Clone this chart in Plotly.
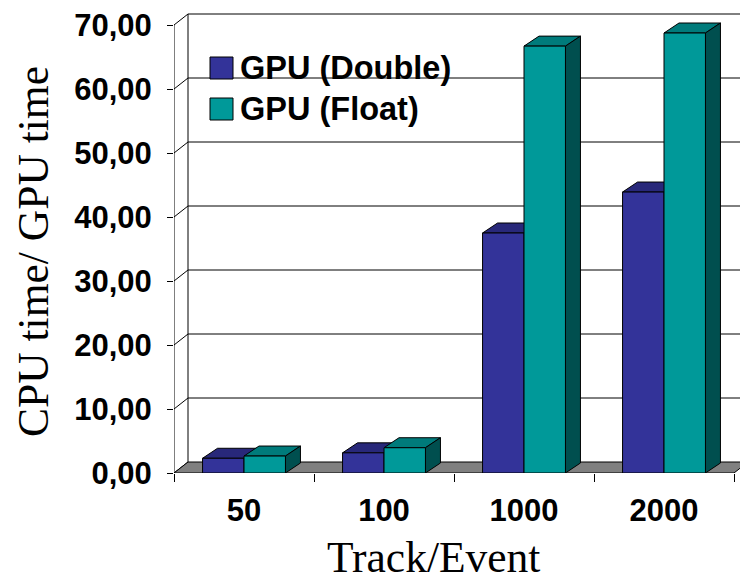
import plotly.graph_objects as go

# ---- data ----------------------------------------------------------------
CATEGORIES = ["50", "100", "1000", "2000"]
SERIES_NAMES = ["GPU (Double)", "GPU (Float)"]
GPU_DOUBLE = [2.3, 3.15, 37.5, 43.9]
GPU_FLOAT = [2.65, 3.95, 66.7, 68.75]
Y_TICKS = [0, 10, 20, 30, 40, 50, 60, 70]
Y_TICK_TEXT = ["0,00", "10,00", "20,00", "30,00", "40,00", "50,00", "60,00", "70,00"]
X_TITLE = "Track/Event"
Y_TITLE = "CPU time/ GPU time"

# ---- geometry --------------------------------------------------------------
W, H = 740, 580
PLOT_L, PLOT_T, PLOT_B = 174, 0, 473          # plot area edges in pixels
PX_PER_CAT = 140.0                              # pixels per category slot
PX_PER_UNIT = 6.4                               # pixels per value unit
X0 = -0.5
X_RANGE = [X0, X0 + (W - PLOT_L) / PX_PER_CAT]
Y_RANGE = [0, (PLOT_B - PLOT_T) / PX_PER_UNIT]

# oblique "3D" depth offsets converted to axis units
WALL_DX, WALL_DY = 14 / PX_PER_CAT, 11 / PX_PER_UNIT
BAR_DX, BAR_DY = 15 / PX_PER_CAT, 10 / PX_PER_UNIT
BAR_W = 0.296

DOUBLE_COLORS = dict(front="#333399", top="#28287a", side="#1a1a4d")
FLOAT_COLORS = dict(front="#009999", top="#007b7b", side="#004f4f")

BOLD = dict(family="Liberation Sans, Arial, sans-serif", size=31, color="black", weight="bold")
LEGEND_FONT = dict(BOLD, size=32.5)
SERIF = dict(family="Liberation Serif, Times New Roman, serif", size=43.5, color="black")

EDGE = dict(color="black", width=1)


def poly(pts):
    return "M " + " L ".join(f"{x:.5f},{y:.5f}" for x, y in pts) + " Z"


shapes = []
n_cat = len(CATEGORIES)
y_top = Y_TICKS[-1]

# side wall: front edge, back edge and slanted tick lines; back-wall gridlines
shapes.append(dict(type="line", x0=X0, y0=0, x1=X0, y1=y_top, line=EDGE))
shapes.append(dict(type="line", x0=X0 + WALL_DX, y0=WALL_DY,
                   x1=X0 + WALL_DX, y1=y_top + WALL_DY, line=EDGE))
for v in Y_TICKS:
    shapes.append(dict(type="line", x0=X0, y0=v, x1=X0 + WALL_DX, y1=v + WALL_DY, line=EDGE))
    if v > 0:
        shapes.append(dict(type="line", x0=X0 + WALL_DX, y0=v + WALL_DY,
                           x1=X_RANGE[1] + 1, y1=v + WALL_DY, line=EDGE))

# grey floor
x_end = X0 + n_cat
shapes.append(dict(type="path", path=poly([(X0, 0), (x_end, 0),
                                           (x_end + WALL_DX, WALL_DY),
                                           (X0 + WALL_DX, WALL_DY)]),
                   fillcolor="#808080", line=EDGE))

# top and right faces of every column (front faces are the bar traces)
series = [(GPU_DOUBLE, -BAR_W, DOUBLE_COLORS), (GPU_FLOAT, 0.0, FLOAT_COLORS)]
for i in range(n_cat):
    for vals, off, col in series:
        v = vals[i]
        xl = i + off
        xr = xl + BAR_W
        shapes.append(dict(type="path", fillcolor=col["top"], line=EDGE,
                           path=poly([(xl, v), (xr, v), (xr + BAR_DX, v + BAR_DY),
                                      (xl + BAR_DX, v + BAR_DY)])))
        shapes.append(dict(type="path", fillcolor=col["side"], line=EDGE,
                           path=poly([(xr, 0), (xr, v), (xr + BAR_DX, v + BAR_DY),
                                      (xr + BAR_DX, BAR_DY)])))
for s in shapes:
    s["layer"] = "below"
    s["xref"] = "x"
    s["yref"] = "y"

fig = go.Figure()
for name, (vals, off, col) in zip(SERIES_NAMES, series):
    fig.add_trace(go.Bar(
        x=list(range(n_cat)), y=vals, name=name, width=BAR_W, offset=off,
        marker=dict(color=col["front"], line=EDGE), showlegend=False,
        hoverinfo="skip",
    ))
# carrier trace for the boundary tick axis
fig.add_trace(go.Scatter(x=[None], y=[None], xaxis="x2", showlegend=False, hoverinfo="skip"))


def px_to_paper(px, py):
    return (px - PLOT_L) / (W - PLOT_L), (PLOT_B - py) / (PLOT_B - PLOT_T)


# legend drawn as swatches + text
annotations = []
legend_rows = [(SERIES_NAMES[0], DOUBLE_COLORS["front"], 68),
               (SERIES_NAMES[1], FLOAT_COLORS["front"], 109)]
for name, color, cy in legend_rows:
    x0p, y0p = px_to_paper(210, cy + 11)
    x1p, y1p = px_to_paper(233, cy - 11)
    shapes.append(dict(type="rect", xref="paper", yref="paper", x0=x0p, y0=y0p,
                       x1=x1p, y1=y1p, fillcolor=color, line=EDGE, layer="above"))
    tx, ty = px_to_paper(238, cy)
    annotations.append(dict(xref="paper", yref="paper", x=tx, y=ty, text=name,
                            showarrow=False, xanchor="left", yanchor="middle",
                            font=LEGEND_FONT))

# axis titles
tx, ty = px_to_paper(33, 252)
annotations.append(dict(xref="paper", yref="paper", x=tx, y=ty, text=Y_TITLE,
                        textangle=-90, showarrow=False, xanchor="center",
                        yanchor="middle", font=SERIF))
tx, ty = px_to_paper(433, 557)
annotations.append(dict(xref="paper", yref="paper", x=tx, y=ty, text=X_TITLE,
                        showarrow=False, xanchor="center", yanchor="middle",
                        font=SERIF))

fig.update_layout(
    width=W, height=H, autosize=False,
    margin=dict(l=PLOT_L, r=0, t=PLOT_T, b=H - PLOT_B, pad=0),
    paper_bgcolor="white", plot_bgcolor="white",
    barmode="overlay", showlegend=False,
    shapes=shapes, annotations=annotations,
    xaxis=dict(range=X_RANGE, tickvals=list(range(n_cat)), ticktext=CATEGORIES,
               ticks="", showgrid=False, zeroline=False, showline=False,
               tickfont=BOLD, ticklabelstandoff=16, fixedrange=True),
    xaxis2=dict(range=X_RANGE, overlaying="x", anchor="y", side="bottom",
                tickvals=[X0 + k for k in range(n_cat + 1)], ticks="outside",
                ticklen=8, tickcolor="black", tickwidth=1, showticklabels=False,
                showgrid=False, zeroline=False, showline=False, fixedrange=True),
    yaxis=dict(range=Y_RANGE, tickvals=Y_TICKS, ticktext=Y_TICK_TEXT,
               ticks="outside", ticklen=6, tickcolor="black", tickwidth=1,
               showgrid=False, zeroline=False, showline=False,
               tickfont=BOLD, ticklabelstandoff=9, fixedrange=True),
)

fig.write_html("out.html")
